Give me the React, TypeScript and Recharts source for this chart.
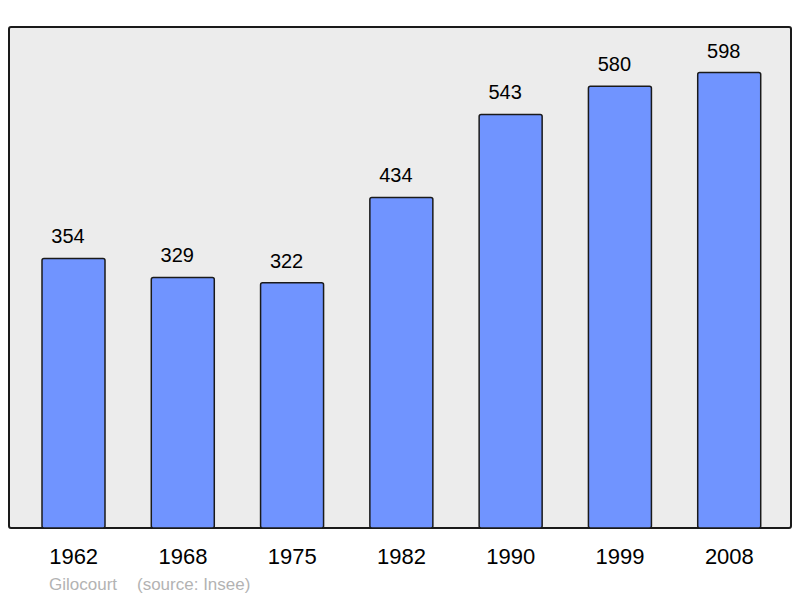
import { BarChart, Bar, XAxis, YAxis, LabelList, Customized } from "recharts";

const years = ["1962", "1968", "1975", "1982", "1990", "1999", "2008"];
const population = [354, 329, 322, 434, 543, 580, 598];
const commune = "Gilocourt";
const source = "(source: Insee)";

const data = years.map((year, i) => ({ year, population: population[i] }));
const yMax = Math.max(...population) * 1.1;

const FONT = '"Liberation Sans", Arial, sans-serif';

// value label above each bar, nudged a little left like the original
const ValueLabel = (props: any) => {
  const { x, y, width, value } = props;
  return (
    <text
      x={x + width / 2 - 5.5}
      y={y - 15}
      textAnchor="middle"
      fontSize={20}
      fill="#000"
      fontFamily={FONT}
    >
      {value}
    </text>
  );
};

export default function App() {
  return (
    <div style={{ position: "absolute", left: 0, top: 0, width: 800, height: 598, background: "#fff" }}>
      {/* plot frame */}
      <div
        style={{
          position: "absolute",
          left: 8,
          top: 26,
          width: 784,
          height: 503,
          boxSizing: "border-box",
          background: "#ececec",
          border: "2px solid #1a1a1a",
          borderRadius: 3,
        }}
      />
      <BarChart
        width={800}
        height={598}
        data={data}
        margin={{ top: 27, right: 9, left: 9, bottom: 0 }}
        style={{ position: "absolute", left: 0, top: 0 }}
      >
        <XAxis
          dataKey="year"
          height={70}
          axisLine={false}
          tickLine={false}
          tickSize={0}
          tickMargin={20}
          padding={{ left: 10, right: 7 }}
          interval={0}
          tick={{ fontSize: 22, fill: "#000", fontFamily: FONT }}
        />
        <YAxis hide domain={[0, yMax]} />
        <Bar
          dataKey="population"
          barSize={63}
          fill="#7094ff"
          stroke="#1a1a1a"
          strokeWidth={1.5}
          radius={2}
          isAnimationActive={false}
        >
          <LabelList dataKey="population" content={ValueLabel} />
        </Bar>
        <Customized
          component={() => (
            <text x={49} y={590} fontSize={17} fill="#b3b3b3" fontFamily={FONT}>
              {commune}
              <tspan x={137}>{source}</tspan>
            </text>
          )}
        />
      </BarChart>
    </div>
  );
}
